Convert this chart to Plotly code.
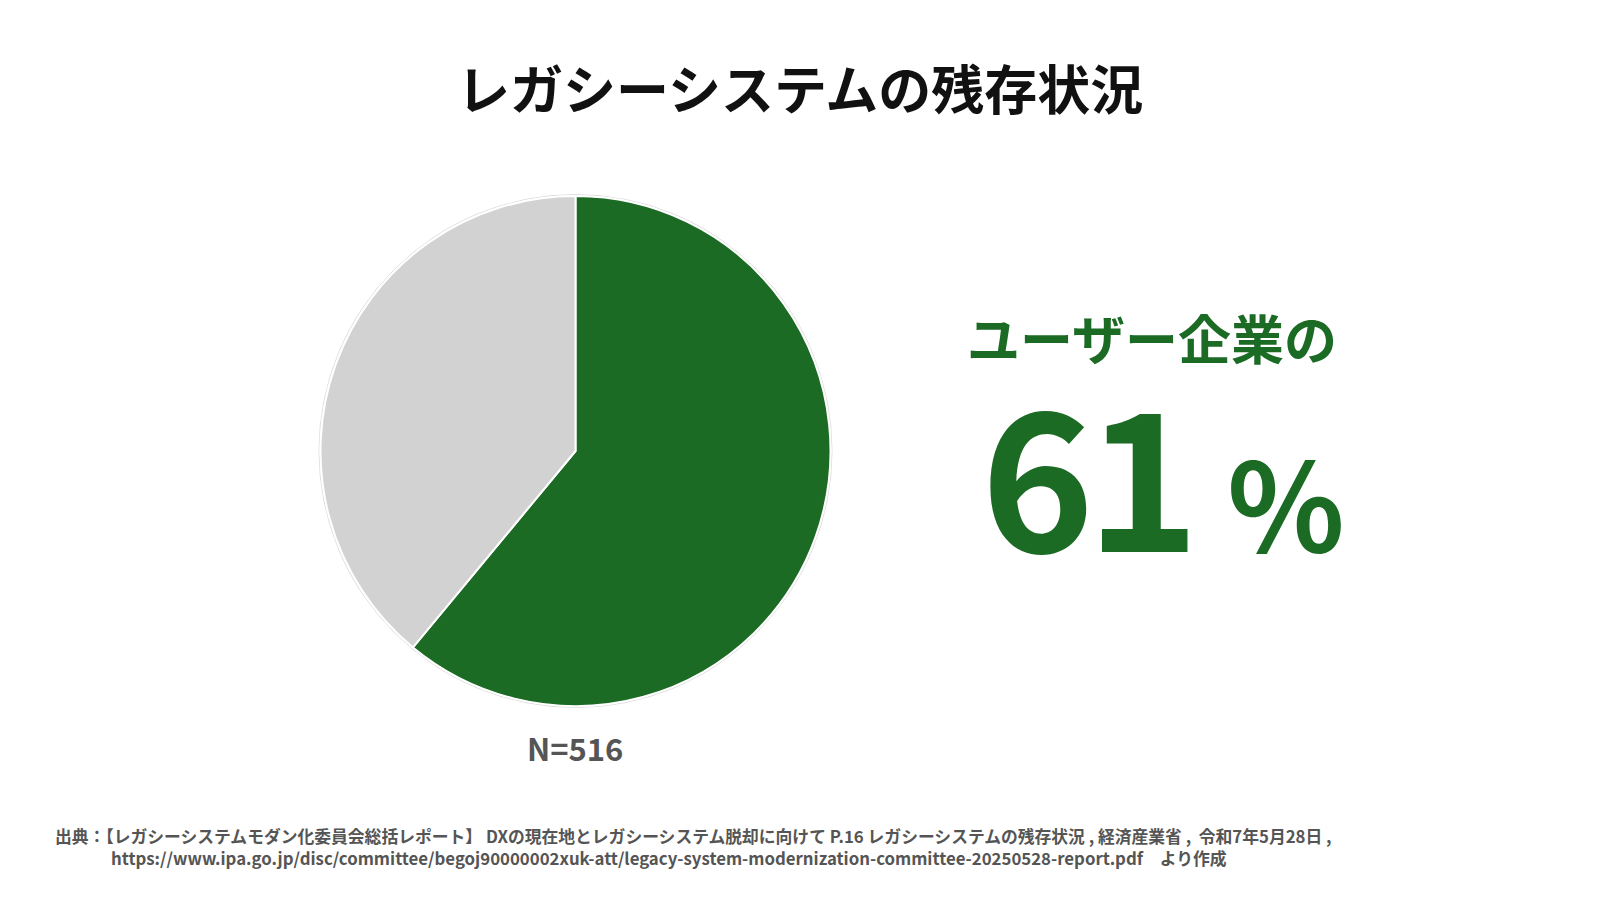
import plotly.graph_objects as go

# Data
labels = ["レガシーシステムあり", "その他"]
values = [61, 39]
colors = ["#1B6B25", "#D2D2D2"]

title_text = "レガシーシステムの残存状況"
headline = "ユーザー企業の"
big_value = "61"
sample_note = "N=516"
source_line1 = "出典：【レガシーシステムモダン化委員会総括レポート】 DXの現在地とレガシーシステム脱却に向けて P.16 レガシーシステムの残存状況 , 経済産業省 ,  令和7年5月28日 ,"
source_line2 = "https://www.ipa.go.jp/disc/committee/begoj90000002xuk-att/legacy-system-modernization-committee-20250528-report.pdf　より作成"

W, H = 1600, 900
FONT = "Noto Sans CJK JP"
GREEN = "#1B6B25"

# pie geometry (pixels)
cx, cy, r = 575.5, 451, 255

def px(x):
    return x / W

def py(y):
    return 1 - y / H

fig = go.Figure()
fig.add_trace(go.Pie(
    labels=labels,
    values=values,
    sort=False,
    direction="clockwise",
    rotation=0,
    marker=dict(colors=colors, line=dict(color="white", width=2)),
    textinfo="none",
    hoverinfo="label+percent",
    showlegend=False,
    domain=dict(x=[px(cx - r), px(cx + r)], y=[py(cy + r), py(cy - r)]),
))

fig.add_shape(type="circle", xref="paper", yref="paper",
              x0=px(cx - r - 1.5), x1=px(cx + r + 1.5),
              y0=py(cy + r + 1.5), y1=py(cy - r - 1.5),
              line=dict(color="#DDDDDD", width=1), layer="below")

ann = []
ann.append(dict(text="<b>" + title_text + "</b>", x=0.5, y=py(87), xref="paper", yref="paper",
                xanchor="center", yanchor="middle", showarrow=False,
                font=dict(family=FONT, size=53, color="#111111")))
ann.append(dict(text="<b>" + headline + "</b>", x=px(1152), y=py(337), xref="paper", yref="paper",
                xanchor="center", yanchor="middle", showarrow=False,
                font=dict(family=FONT, size=53, color=GREEN)))
ann.append(dict(text="<b><span style='letter-spacing:-8px'>" + big_value[:-1] + "</span>" + big_value[-1:] +
                     "<span style='font-size:122px'> %</span></b>",
                x=px(1163), y=py(468), xref="paper", yref="paper",
                xanchor="center", yanchor="middle", showarrow=False,
                font=dict(family=FONT, size=192, color=GREEN)))
ann.append(dict(text="<b>" + sample_note + "</b>", x=px(575), y=py(747), xref="paper", yref="paper",
                xanchor="center", yanchor="middle", showarrow=False,
                font=dict(family=FONT, size=31, color="#555555")))
ann.append(dict(text="<b>" + source_line1 + "</b>", x=px(53), y=py(836), xref="paper", yref="paper",
                xanchor="left", yanchor="middle", showarrow=False,
                font=dict(family=FONT, size=16.8, color="#555555")))
ann.append(dict(text="<b>" + source_line2 + "</b>", x=px(109), y=py(858), xref="paper", yref="paper",
                xanchor="left", yanchor="middle", showarrow=False,
                font=dict(family=FONT, size=16.8, color="#555555")))

fig.update_layout(
    width=W, height=H,
    margin=dict(l=0, r=0, t=0, b=0),
    paper_bgcolor="white", plot_bgcolor="white",
    annotations=ann,
    font=dict(family=FONT),
)

fig.write_html("out.html", config={"displayModeBar": False})
